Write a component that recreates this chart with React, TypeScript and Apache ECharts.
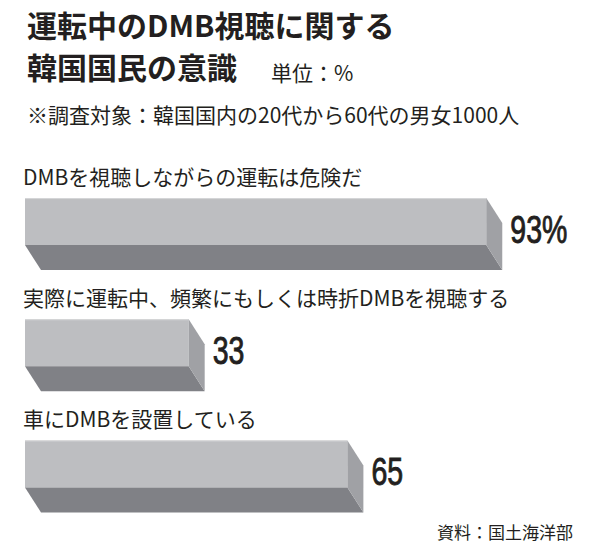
import React, { useEffect, useRef } from 'react';
import * as echarts from 'echarts';

// アンケート項目と回答率(%)
const categories = [
  'DMBを視聴しながらの運転は危険だ',
  '実際に運転中、頻繁にもしくは時折DMBを視聴する',
  '車にDMBを設置している'
];
const values = [93, 33, 65];
const valueSuffixes = ['%', '', ''];

const titleText = '運転中のDMB視聴に関する\n韓国国民の意識';
const unitText = '単位：%';
const noteText = '※調査対象：韓国国内の20代から60代の男女1000人';
const sourceText = '資料：国土海洋部';

const JP_FONT = '"Noto Sans CJK JP", "Noto Sans", sans-serif';
const NUM_FONT = '"Liberation Sans", Arial, sans-serif';

const App: React.FC = () => {
  const chartRef = useRef<HTMLDivElement>(null);

  useEffect(() => {
    if (!chartRef.current) return;
    const chart = echarts.init(chartRef.current, undefined, { renderer: 'svg' });

    const FRONT_H = 47;
    const DEPTH_X = 16;
    const DEPTH_Y = 25;

    const option = {
      animation: false,
      backgroundColor: '#ffffff',
      title: [
        {
          text: titleText,
          left: 22,
          top: -2,
          textStyle: {
            fontFamily: JP_FONT,
            fontSize: 30,
            fontWeight: 'bold',
            lineHeight: 42,
            color: '#231f20'
          }
        },
        {
          text: unitText,
          left: 266,
          top: 56,
          textStyle: { fontFamily: JP_FONT, fontSize: 21, fontWeight: 'normal', color: '#231f20' }
        },
        {
          text: noteText,
          left: 22,
          top: 98,
          textStyle: { fontFamily: JP_FONT, fontSize: 21, fontWeight: 'normal', color: '#231f20' }
        },
        {
          text: sourceText,
          right: 22,
          top: 518,
          textStyle: { fontFamily: JP_FONT, fontSize: 17, fontWeight: 'normal', color: '#231f20' }
        }
      ],
      grid: { left: 25, width: 496, top: 173.5, height: 363.5 },
      xAxis: { type: 'value', min: 0, max: 100, show: false },
      yAxis: { type: 'category', data: categories, inverse: true, show: false },
      series: [
        {
          type: 'custom',
          encode: { x: 0, y: 1 },
          data: values.map((v, i) => [v, i]),
          renderItem: (params: any, api: any) => {
            const v = api.value(0);
            const i = api.value(1);
            const [x1, yc] = api.coord([v, i]);
            const [x0] = api.coord([0, i]);
            const top = yc - (FRONT_H + DEPTH_Y) / 2;
            return {
              type: 'group',
              children: [
                {
                  type: 'rect',
                  shape: { x: x0, y: top, width: x1 - x0, height: FRONT_H },
                  style: { fill: '#bdbec1' }
                },
                {
                  type: 'line',
                  shape: { x1: x0, y1: top + 0.5, x2: x1, y2: top + 0.5 },
                  style: { stroke: '#d6d7d9', lineWidth: 1 }
                },
                {
                  type: 'polygon',
                  shape: {
                    points: [
                      [x0, top + FRONT_H],
                      [x1, top + FRONT_H],
                      [x1 + DEPTH_X, top + FRONT_H + DEPTH_Y],
                      [x0 + DEPTH_X, top + FRONT_H + DEPTH_Y]
                    ]
                  },
                  style: { fill: '#808186' }
                },
                {
                  type: 'polygon',
                  shape: {
                    points: [
                      [x1, top],
                      [x1 + DEPTH_X, top + DEPTH_Y],
                      [x1 + DEPTH_X, top + FRONT_H + DEPTH_Y],
                      [x1, top + FRONT_H]
                    ]
                  },
                  style: { fill: '#a0a1a5' }
                },
                {
                  type: 'text',
                  style: {
                    x: x0 - 2,
                    y: top - 22,
                    text: categories[i],
                    fill: '#231f20',
                    font: `21px ${JP_FONT}`,
                    verticalAlign: 'middle'
                  }
                },
                {
                  // 数値は縦長の書体に見せるため横方向を縮める
                  type: 'text',
                  x: x1 + DEPTH_X + 8,
                  y: yc - 4,
                  scaleX: 0.75,
                  style: {
                    x: 0,
                    y: 0,
                    text: `${v}${valueSuffixes[i]}`,
                    fill: '#231f20',
                    stroke: '#231f20',
                    lineWidth: 0.9,
                    font: `38px ${NUM_FONT}`,
                    verticalAlign: 'middle'
                  }
                }
              ]
            };
          }
        }
      ]
    };

    chart.setOption(option);
    return () => {
      chart.dispose();
    };
  }, []);

  return (
    <div
      ref={chartRef}
      style={{ position: 'fixed', left: 0, top: 0, width: '600px', height: '553px' }}
    />
  );
};

export default App;
